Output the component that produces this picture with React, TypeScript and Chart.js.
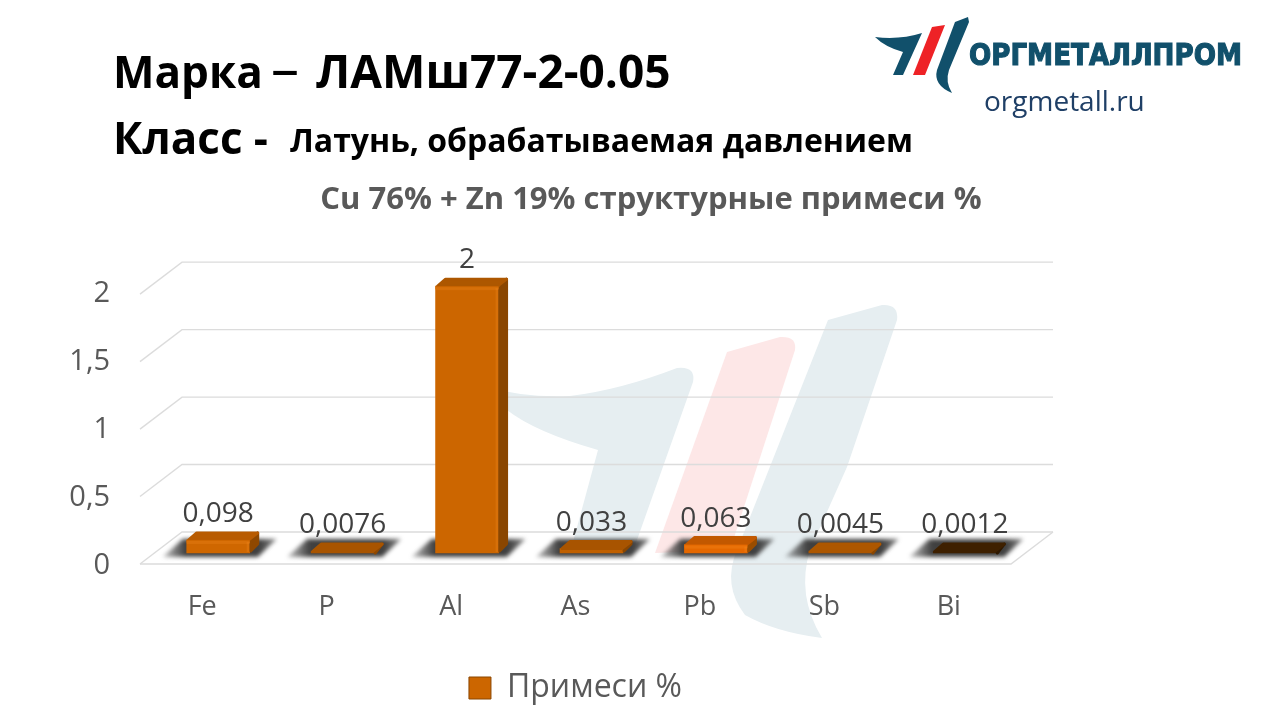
import React, { useEffect, useRef } from "react";
import { Chart, registerables } from "chart.js";

Chart.register(...registerables);

const categories = ["Fe", "P", "Al", "As", "Pb", "Sb", "Bi"];
const values = [0.098, 0.0076, 2, 0.033, 0.063, 0.0045, 0.0012];
const valueLabels = ["0,098", "0,0076", "2", "0,033", "0,063", "0,0045", "0,0012"];
const seriesName = "Примеси %";
const frontColors = ["#cf6700", "#a85400", "#cc6600", "#c06000", "#e56800", "#ad5700", "#3e2000"];
const topColors = ["#b85b00", "#a85400", "#ad5700", "#a85400", "#c25800", "#ad5700", "#3e2000"];
const sideColors = ["#8f4800", "#8f4800", "#8a4600", "#8a4600", "#9a4d00", "#8a4600", "#2e1800"];

const FONT = '"Open Sans"';
const DEPTH_X = 10;
const DEPTH_Y = 9;
const BAR_SHIFT = 16;
const WALL_X = 42;
const WALL_Y = 32;

type P = [number, number];

function poly(ctx: CanvasRenderingContext2D, pts: P[]) {
  ctx.beginPath();
  pts.forEach((p, i) => (i ? ctx.lineTo(p[0], p[1]) : ctx.moveTo(p[0], p[1])));
  ctx.closePath();
}

function drawMark(ctx: CanvasRenderingContext2D, blue: string, red: string, big: boolean) {
  if (big) {
    ctx.fillStyle = blue;
    ctx.beginPath();
    ctx.moveTo(487, 387);
    ctx.quadraticCurveTo(525, 398, 570, 396);
    ctx.quadraticCurveTo(620, 390, 677, 368);
    ctx.quadraticCurveTo(696, 366, 693, 382);
    ctx.lineTo(637, 540);
    ctx.lineTo(633, 553);
    ctx.lineTo(570, 553);
    ctx.lineTo(598, 450);
    ctx.quadraticCurveTo(535, 432, 507, 410);
    ctx.closePath();
    ctx.fill();
    ctx.fillStyle = red;
    ctx.beginPath();
    ctx.moveTo(727, 352);
    ctx.lineTo(780, 337);
    ctx.quadraticCurveTo(797, 336, 795, 350);
    ctx.lineTo(730, 550);
    ctx.lineTo(655, 553);
    ctx.closePath();
    ctx.fill();
    ctx.fillStyle = blue;
    ctx.beginPath();
    ctx.moveTo(828, 320);
    ctx.lineTo(882, 305);
    ctx.quadraticCurveTo(899, 304, 897, 320);
    ctx.lineTo(847, 467);
    ctx.lineTo(810, 550);
    ctx.quadraticCurveTo(796, 595, 822, 638);
    ctx.quadraticCurveTo(775, 632, 745, 615);
    ctx.quadraticCurveTo(722, 585, 737, 550);
    ctx.closePath();
    ctx.fill();
  } else {
    ctx.fillStyle = blue;
    ctx.beginPath();
    ctx.moveTo(875, 37);
    ctx.quadraticCurveTo(900, 40, 922, 33);
    ctx.lineTo(903, 75);
    ctx.lineTo(893, 75);
    ctx.lineTo(903, 52);
    ctx.quadraticCurveTo(885, 47, 875, 37);
    ctx.closePath();
    ctx.fill();
    ctx.fillStyle = red;
    poly(ctx, [[932, 27], [945, 25], [925, 75], [913, 75]]);
    ctx.fill();
    ctx.fillStyle = blue;
    ctx.beginPath();
    ctx.moveTo(955, 22);
    ctx.lineTo(968, 17);
    ctx.lineTo(969, 22);
    ctx.lineTo(949, 70);
    ctx.quadraticCurveTo(945, 82, 952, 93);
    ctx.quadraticCurveTo(933, 85, 937, 70);
    ctx.closePath();
    ctx.fill();
  }
}

const scenePlugin = {
  id: "scene",
  beforeDraw(chart: any) {
    const ctx: CanvasRenderingContext2D = chart.ctx;
    const { left, right } = chart.chartArea;
    const y = chart.scales.y;
    ctx.save();
    ctx.fillStyle = "#ffffff";
    ctx.fillRect(0, 0, chart.width, chart.height);

    drawMark(ctx, "#e6eef1", "#fde7e7", true);
    drawMark(ctx, "#11506b", "#ee2226", false);

    ctx.textBaseline = "middle";
    ctx.textAlign = "left";
    ctx.fillStyle = "#000000";
    ctx.font = `bold 44px ${FONT}`;
    ctx.fillText("Марка", 113, 75, 150);
    ctx.fillText("Класс -", 113, 141, 155);
    ctx.font = `bold 46px ${FONT}`;
    ctx.fillText("ЛАМш77-2-0.05", 316, 75, 358);
    ctx.font = `56px ${FONT}`;
    ctx.fillText("–", 271, 72, 32);
    ctx.font = `bold 32px ${FONT}`;
    ctx.fillText("Латунь, обрабатываемая давлением", 290, 143, 623);

    ctx.fillStyle = "#11506b";
    ctx.strokeStyle = "#11506b";
    ctx.lineWidth = 1.2;
    ctx.font = `bold 31px "DejaVu Sans"`;
    ctx.fillText("ОРГМЕТАЛЛПРОМ", 969, 57, 273);
    ctx.strokeText("ОРГМЕТАЛЛПРОМ", 969, 57, 273);
    ctx.fillStyle = "#1f3f66";
    ctx.font = `28px ${FONT}`;
    ctx.fillText("orgmetall.ru", 984, 103);

    ctx.strokeStyle = "#dcdcdc";
    ctx.lineWidth = 1.4;
    const py0 = y.getPixelForValue(0);
    const gridY = (v: number) => py0 - 1.5 - (py0 - y.getPixelForValue(v)) * 0.9926;
    y.ticks.forEach((t: any) => {
      if (t.value > 2) return;
      const py = gridY(t.value);
      ctx.beginPath();
      ctx.moveTo(left, py);
      ctx.lineTo(left + WALL_X, py - WALL_Y);
      ctx.lineTo(right + WALL_X, py - WALL_Y);
      ctx.stroke();
    });
    const g0 = gridY(0);
    ctx.beginPath();
    ctx.moveTo(left, g0);
    ctx.lineTo(right, g0);
    ctx.lineTo(right + WALL_X, g0 - WALL_Y);
    ctx.stroke();
    ctx.restore();
  },
  beforeDatasetsDraw(chart: any) {
    const ctx: CanvasRenderingContext2D = chart.ctx;
    const bars = chart.getDatasetMeta(0).data;
    ctx.save();
    ctx.translate(BAR_SHIFT, 0);
    bars.forEach((b: any) => {
      const l = b.x - b.width / 2;
      const r = b.x + b.width / 2;
      const base = b.base;
      const grad = ctx.createLinearGradient(l - 24, 0, r + 27, 0);
      grad.addColorStop(0, "rgba(64,64,64,0.3)");
      grad.addColorStop(0.2, "rgba(64,64,64,1)");
      grad.addColorStop(0.85, "rgba(64,64,64,1)");
      grad.addColorStop(1, "rgba(64,64,64,0.6)");
      ctx.save();
      ctx.filter = "blur(2px)";
      ctx.fillStyle = grad;
      poly(ctx, [[l - 24, base + 4], [r + 8, base + 4], [r + 27, base - 14], [l - 4, base - 14]]);
      ctx.fill();
      ctx.restore();
    });
    // the dataset itself is drawn with this shift still applied
  },
  afterDatasetsDraw(chart: any) {
    const ctx: CanvasRenderingContext2D = chart.ctx;
    const bars = chart.getDatasetMeta(0).data;
    bars.forEach((b: any, i: number) => {
      const l = b.x - b.width / 2;
      const r = b.x + b.width / 2;
      const top = b.y;
      const base = b.base;
      ctx.lineJoin = "round";
      ctx.lineWidth = 3;
      ctx.fillStyle = sideColors[i];
      ctx.strokeStyle = sideColors[i];
      poly(ctx, [[r + 1, top + 2], [r + DEPTH_X - 2, top - DEPTH_Y + 2], [r + DEPTH_X - 2, base - DEPTH_Y], [r + 1, base - 2]]);
      ctx.fill();
      ctx.stroke();
      ctx.fillStyle = topColors[i];
      ctx.strokeStyle = topColors[i];
      poly(ctx, [[l + 2, top], [l + DEPTH_X, top - DEPTH_Y + 2], [r + DEPTH_X - 2, top - DEPTH_Y + 2], [r - 1, top]]);
      ctx.fill();
      ctx.stroke();
      if (base - top > 6) {
        ctx.fillStyle = frontColors[i];
        ctx.fillRect(l, top, b.width, Math.min(3, base - top));
        ctx.fillStyle = "rgba(255,150,40,0.22)";
        ctx.fillRect(r - 3, top + 2, 3, base - top - 3);
        ctx.fillRect(l, top + 1, b.width, 3);
      }
    });
    ctx.restore();

    ctx.save();
    ctx.fillStyle = "#404040";
    ctx.font = `28px ${FONT}`;
    ctx.textAlign = "center";
    ctx.textBaseline = "middle";
    bars.forEach((b: any, i: number) => {
      ctx.fillText(valueLabels[i], b.x + BAR_SHIFT, b.y - 26);
    });
    ctx.restore();
  },
};

export default function App() {
  const ref = useRef<HTMLCanvasElement>(null);
  useEffect(() => {
    document.body.style.margin = "0";
    const chart = new Chart(ref.current as HTMLCanvasElement, {
      type: "bar",
      data: {
        labels: categories,
        datasets: [
          {
            label: seriesName,
            data: values,
            yAxisID: "y1",
            backgroundColor: frontColors,
            barThickness: 63,
            minBarLength: 2,
            clip: false as any,
          },
        ],
      },
      plugins: [scenePlugin],
      options: {
        animation: false,
        responsive: false,
        devicePixelRatio: 1,
        layout: { padding: { left: 22, right: 0, top: 0, bottom: 6 } },
        scales: {
          x: {
            grid: { display: false, drawTicks: false },
            border: { display: false },
            ticks: {
              color: "#595959",
              font: { family: "Open Sans", size: 27 },
              padding: 26,
              maxRotation: 0,
            },
            afterFit: (s: any) => {
              s.height = 94.5;
            },
          },
          y: {
            min: 0,
            max: 2.5,
            position: "left",
            grid: { display: false, drawTicks: false },
            border: { display: false },
            ticks: {
              stepSize: 0.5,
              color: "#595959",
              font: { family: "Open Sans", size: 29 },
              padding: 30,
              callback: (v: any) => (v > 2 ? "" : String(v).replace(".", ",")),
            },
            afterFit: (s: any) => {
              s.width = 118;
            },
          },
          y1: {
            min: -0.0936,
            max: 2.4529,
            position: "right",
            grid: { display: false, drawTicks: false },
            border: { display: false },
            ticks: { display: false },
            afterFit: (s: any) => {
              s.width = 269;
            },
          },
        },
        plugins: {
          tooltip: { enabled: false },
          title: {
            display: true,
            text: "Cu 76% + Zn 19% структурные примеси %",
            color: "#595959",
            font: { family: "Open Sans", size: 31, weight: "bold" },
            padding: { top: 182, bottom: 6.5 },
          },
          legend: {
            display: true,
            position: "bottom",
            fullSize: false,
            labels: {
              color: "#595959",
              font: { family: "Open Sans", size: 32 },
              boxWidth: 22,
              boxHeight: 22,
              padding: 12,
              generateLabels: () => [
                {
                  text: seriesName,
                  fontColor: "#595959",
                  fillStyle: "#cc6600",
                  strokeStyle: "#8a4600",
                  lineWidth: 1,
                  hidden: false,
                  datasetIndex: 0,
                },
              ],
            },
          },
        },
      } as any,
    });
    return () => chart.destroy();
  }, []);
  return <canvas ref={ref} width={1280} height={720} style={{ display: "block" }} />;
}
